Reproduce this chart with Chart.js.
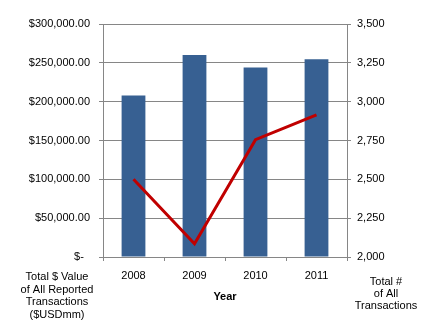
<!DOCTYPE html>
<html>
<head>
<meta charset="utf-8">
<script src="https://cdn.jsdelivr.net/npm/chart.js@4"></script>
<style>
  body { margin: 0; background: #fff; }
  #wrap { width: 428px; height: 331px; position: relative; }
</style>
</head>
<body>
<div id="wrap"><canvas id="myChart"></canvas></div>
<script>
const years = ['2008', '2009', '2010', '2011'];
const totalValue = [208000, 260000, 244000, 254500];   // $USDmm
const totalCount = [2500, 2085, 2755, 2915];           // number of transactions
const valueTicks = [0, 50000, 100000, 150000, 200000, 250000, 300000];
const countTicks = [2000, 2250, 2500, 2750, 3000, 3250, 3500];

const gridGray = '#868686';
const fontFamily = '"Liberation Sans", Arial, sans-serif';
Chart.defaults.font.family = fontFamily;
Chart.defaults.font.size = 11;
Chart.defaults.color = '#000';

// axis captions that sit under the two y axes
const sideTitles = {
  id: 'sideTitles',
  afterDraw(chart) {
    const { ctx, chartArea } = chart;
    ctx.save();
    ctx.font = '11px ' + fontFamily;
    ctx.fillStyle = '#000';
    ctx.textAlign = 'center';
    ctx.textBaseline = 'middle';
    const left = ['Total $ Value', 'of All Reported', 'Transactions', '($USDmm)'];
    left.forEach((t, i) => ctx.fillText(t, chartArea.left - 46, chartArea.bottom + 20 + i * 12.7));
    const right = ['Total #', 'of All', 'Transactions'];
    right.forEach((t, i) => ctx.fillText(t, chartArea.right + 39, chartArea.bottom + 25 + i * 12));
    ctx.restore();
  }
};

const config = {
  data: {
    labels: years,
    datasets: [
      {
        type: 'line',
        label: 'Total # of All Transactions',
        data: totalCount,
        yAxisID: 'y1',
        borderColor: '#C00000',
        borderWidth: 3,
        pointRadius: 0,
        tension: 0,
        order: 0
      },
      {
        type: 'bar',
        label: 'Total $ Value',
        data: totalValue,
        yAxisID: 'y',
        backgroundColor: '#376092',
        categoryPercentage: 1,
        barPercentage: 0.39,
        order: 1
      }
    ]
  },
  options: {
    responsive: true,
    maintainAspectRatio: false,
    animation: false,
    layout: { padding: { top: 24, left: 0, right: 0, bottom: 0 } },
    plugins: { legend: { display: false }, tooltip: { enabled: false } },
    scales: {
      x: {
        offset: true,
        grid: { display: true, drawOnChartArea: false, drawTicks: true, tickLength: 4, color: gridGray, offset: true },
        border: { color: gridGray },
        ticks: { padding: 8, maxRotation: 0 },
        title: { display: true, text: 'Year', font: { weight: 'bold', size: 11 }, padding: { top: 4, bottom: 27 } },
        afterFit(scale) { scale.height = 74; }
      },
      y: {
        position: 'left',
        min: 0,
        max: 300000,
        afterBuildTicks(scale) { scale.ticks = valueTicks.map(v => ({ value: v })); },
        ticks: {
          padding: 9,
          callback(v) {
            if (v === 0) return '$-  ';
            return '$' + v.toLocaleString('en-US', { minimumFractionDigits: 2, maximumFractionDigits: 2 });
          }
        },
        grid: { color: gridGray, tickLength: 4 },
        border: { color: gridGray },
        afterFit(scale) { scale.width = 103; }
      },
      y1: {
        position: 'right',
        min: 2000,
        max: 3500,
        afterBuildTicks(scale) { scale.ticks = countTicks.map(v => ({ value: v })); },
        ticks: {
          padding: 6,
          callback(v) { return v.toLocaleString('en-US'); }
        },
        grid: { drawOnChartArea: false, color: gridGray, tickLength: 4 },
        border: { color: gridGray },
        afterFit(scale) { scale.width = 81; }
      }
    }
  },
  plugins: [sideTitles]
};

const myChart = new Chart(document.getElementById('myChart'), config);
</script>
</body>
</html>
